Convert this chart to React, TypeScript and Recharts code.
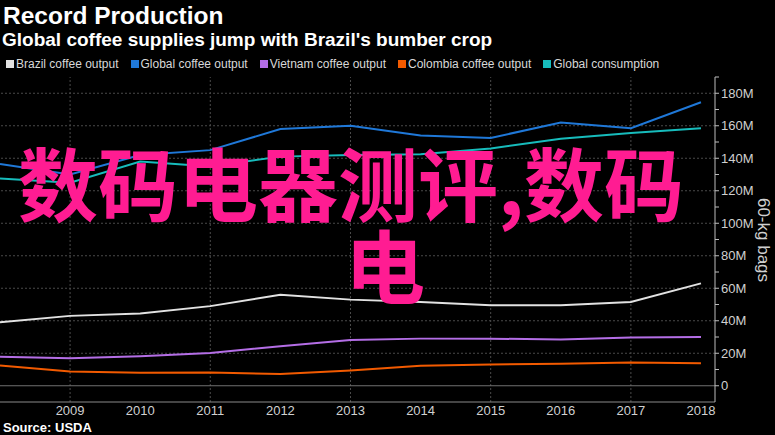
import React from "react";
import { LineChart, Line, XAxis, YAxis, ReferenceLine } from "recharts";

const years = [2008, 2009, 2010, 2011, 2012, 2013, 2014, 2015, 2016, 2017, 2018];
const brazil = [39, 43, 44.5, 49, 56, 53, 51.5, 49.5, 49.5, 51.5, 63];
const globalOutput = [136.5, 130, 142, 145, 158, 160, 154, 152.5, 162, 158.5, 174.5];
const vietnam = [17.8, 17, 18.2, 20.2, 24.3, 28.2, 29, 29, 28.4, 29.7, 30];
const colombia = [12.5, 8.8, 8, 8.2, 7.2, 9.4, 12.3, 13.1, 13.5, 14.3, 13.9];
const consumption = [127.5, 125, 138, 135, 141, 142, 142.5, 146, 152, 155.5, 158.5];

const xTicks = [2009, 2010, 2011, 2012, 2013, 2014, 2015, 2016, 2017, 2018];
const xGrid = [2009, 2011, 2013, 2015, 2017];
const yTicks = [0, 10, 20, 30, 40, 50, 60, 70, 80, 90, 100, 110, 120, 130, 140, 150, 160, 170, 180, 190];
const yGrid = [20, 40, 60, 80, 100, 120, 140, 160, 180];

const series = [
  { key: "brazil", name: "Brazil coffee output", color: "#e2e2e2" },
  { key: "globalOutput", name: "Global coffee output", color: "#1f78d8" },
  { key: "vietnam", name: "Vietnam coffee output", color: "#b46ee6" },
  { key: "colombia", name: "Colombia coffee output", color: "#f25a00" },
  { key: "consumption", name: "Global consumption", color: "#17bcbc" },
];

const data = years.map((year, i) => ({
  year,
  brazil: brazil[i],
  globalOutput: globalOutput[i],
  vietnam: vietnam[i],
  colombia: colombia[i],
  consumption: consumption[i],
}));

const font = "'Liberation Sans', Arial, sans-serif";

function YTick(props: any) {
  const { x, y, payload } = props;
  if (payload.value % 20 !== 0) return <g />;
  return (
    <text x={x} y={y} dy="0.36em" fill="#d0d0d0" fontSize={13} fontFamily={font} textAnchor="start">
      {payload.value === 0 ? "0" : `${payload.value}M`}
    </text>
  );
}

export default function App() {
  return (
    <div
      style={{
        position: "absolute",
        left: 0,
        top: 0,
        width: 775,
        height: 435,
        background: "#000",
        overflow: "hidden",
        fontFamily: font,
      }}
    >
      <div style={{ position: "absolute", left: 3, top: 2, color: "#fff", fontSize: 24.5, fontWeight: 700 }}>
        Record Production
      </div>
      <div style={{ position: "absolute", left: 2, top: 29, color: "#fff", fontSize: 19, fontWeight: 700 }}>
        Global coffee supplies jump with Brazil's bumber crop
      </div>
      <div style={{ position: "absolute", left: 6, top: 57, display: "flex", color: "#d8d8d8", fontSize: 12 }}>
        {series.map((s) => (
          <div key={s.key} style={{ display: "flex", alignItems: "center", marginRight: 12 }}>
            <span style={{ width: 8, height: 8, background: s.color, marginRight: 2, display: "inline-block" }} />
            <span>{s.name}</span>
          </div>
        ))}
      </div>

      <div style={{ position: "absolute", left: 0, top: 0 }}>
        <LineChart width={775} height={435} data={data} margin={{ top: 77, right: 0, bottom: 0, left: 0 }}>
          {yGrid.map((v) => (
            <ReferenceLine key={`gy${v}`} y={v} stroke="#4a4a4a" strokeDasharray="2 2" />
          ))}
          {xGrid.map((v) => (
            <ReferenceLine key={`gx${v}`} x={v} stroke="#4a4a4a" strokeDasharray="2 2" />
          ))}
          <ReferenceLine y={0} stroke="#707070" />
          <XAxis
            dataKey="year"
            type="number"
            domain={[2008, 2018.2]}
            ticks={xTicks}
            allowDataOverflow
            height={33}
            tickLine={false}
            tickSize={3}
            axisLine={{ stroke: "#8a8a8a" }}
            tick={{ fill: "#d0d0d0", fontSize: 13, fontFamily: font }}
            tickMargin={1}
          />
          <YAxis
            orientation="right"
            type="number"
            domain={[-10, 190]}
            ticks={yTicks}
            interval={0}
            allowDataOverflow
            width={60}
            tickSize={4}
            tickMargin={2}
            tickLine={{ stroke: "#bdbdbd" }}
            axisLine={{ stroke: "#bdbdbd" }}
            tick={<YTick />}
          />
          {series.map((s) => (
            <Line
              key={s.key}
              dataKey={s.key}
              name={s.name}
              stroke={s.color}
              strokeWidth={2}
              dot={false}
              type="linear"
              isAnimationActive={false}
            />
          ))}
        </LineChart>
      </div>

      <div
        style={{
          position: "absolute",
          left: 763,
          top: 240,
          transform: "translate(-50%, -50%) rotate(90deg)",
          color: "#d0d0d0",
          fontSize: 17,
          whiteSpace: "nowrap",
        }}
      >
        60-kg bags
      </div>
      <div style={{ position: "absolute", left: 3, top: 420, color: "#fff", fontSize: 13, fontWeight: 700 }}>
        Source: USDA
      </div>

      <div
        style={{
          position: "absolute",
          left: 18,
          top: 140,
          color: "#ff1c92",
          fontFamily: "'Noto Sans CJK SC', sans-serif",
          fontWeight: 700,
          fontSize: 80,
          lineHeight: "80px",
          whiteSpace: "nowrap",
        }}
      >
        数码电器测评,数码
      </div>
      <div
        style={{
          position: "absolute",
          left: 345,
          top: 222,
          color: "#ff1c92",
          fontFamily: "'Noto Sans CJK SC', sans-serif",
          fontWeight: 700,
          fontSize: 80,
          lineHeight: "80px",
          whiteSpace: "nowrap",
        }}
      >
        电
      </div>
    </div>
  );
}
